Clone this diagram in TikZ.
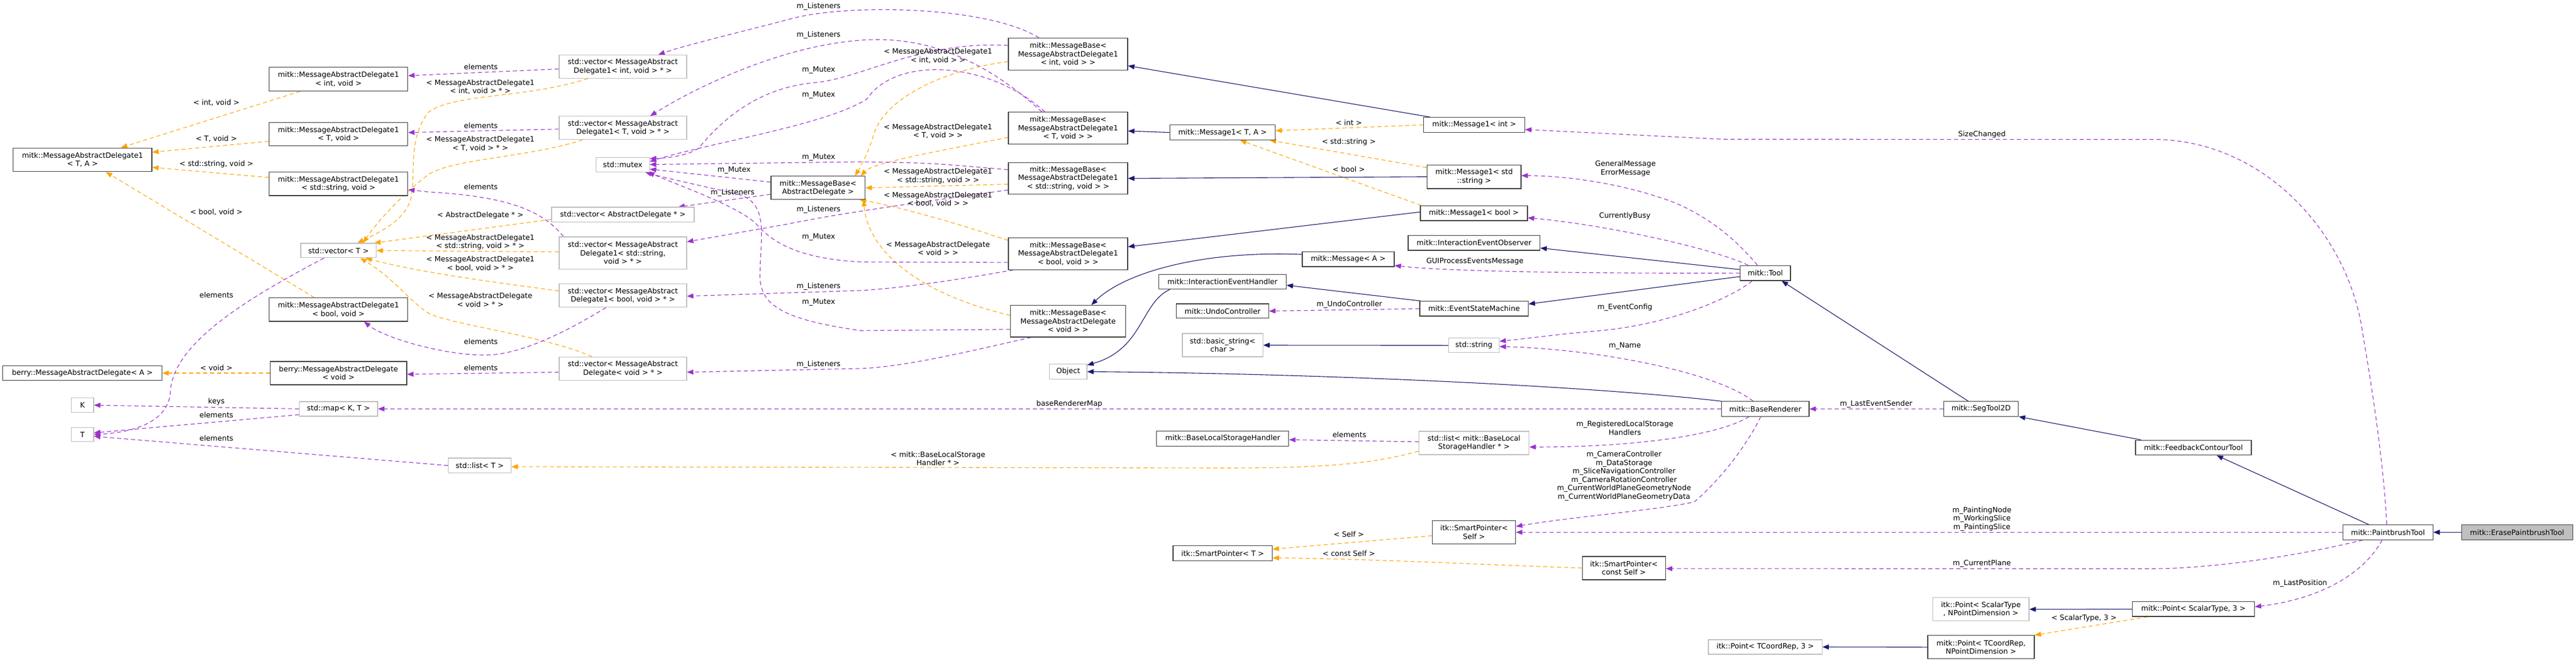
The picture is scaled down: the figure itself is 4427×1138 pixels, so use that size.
\documentclass[tikz,border=0pt]{standalone}
\usepackage{fontspec}
\setmainfont{DejaVu Sans}
\usetikzlibrary{arrows.meta,calc}
\pgfdeclarelayer{paper}
\pgfdeclarelayer{bg}
\pgfsetlayers{paper,bg,main}
\definecolor{purp}{HTML}{9A32CD}
\definecolor{orng}{HTML}{FFA500}
\definecolor{navy}{HTML}{191970}
\definecolor{gbord}{HTML}{BFBFBF}
\definecolor{dbord}{HTML}{404040}
\tikzset{
  box/.style={rectangle, inner sep=0pt, align=center, fill=white, line width=1.2pt},
  doc/.style={box, draw=dbord},
  und/.style={box, draw=gbord},
  sz/.style 2 args={minimum width=#1pt, minimum height=#2pt},
  lab/.style={inner sep=0pt, align=center},
  arrtip/.style={-{Triangle[length=11pt,width=8.5pt]}},
  usel/.style={draw=purp, line width=1.1pt, dash pattern=on 7pt off 5pt, arrtip},
  tmpl/.style={draw=orng, line width=1.1pt, dash pattern=on 7pt off 5pt, arrtip},
  inh/.style={draw=navy, line width=1.1pt, arrtip},
}
\begin{document}
\begin{tikzpicture}[x=1pt,y=-1pt,font=\fontsize{12.5}{14.5}\selectfont]
\begin{pgfonlayer}{paper}
\fill[white] (0,0) rectangle (4427,1138);
\end{pgfonlayer}
\useasboundingbox (0,0) rectangle (4427,1138);
% ---------- nodes ----------
\node[doc,sz={238.3}{40.7}] (madTA) at (141.9,274.5) {mitk::MessageAbstractDelegate1\\< T, A >};
\node[doc,sz={238.3}{40.7}] (madInt) at (581.7,136) {mitk::MessageAbstractDelegate1\\< int, void >};
\node[doc,sz={238.3}{40.3}] (madT) at (581.7,230.7) {mitk::MessageAbstractDelegate1\\< T, void >};
\node[doc,sz={238.3}{40.3}] (madStr) at (581.7,315.9) {mitk::MessageAbstractDelegate1\\< std::string, void >};
\node[doc,sz={238.3}{40.3}] (madBool) at (581.7,531.8) {mitk::MessageAbstractDelegate1\\< bool, void >};
\node[und,sz={129.5}{24.7}] (vecTT) at (581.8,430.4) {std::vector< T >};
\node[doc,sz={273.7}{25.5}] (berryA) at (141.5,641) {berry::MessageAbstractDelegate< A >};
\node[doc,sz={234.5}{40}] (berryVoid) at (581.7,641) {berry::MessageAbstractDelegate\\< void >};
\node[und,sz={38.2}{24.7}] (nK) at (141.8,696) {K};
\node[und,sz={38.2}{24.7}] (nT) at (141.8,746.5) {T};
\node[und,sz={134.5}{25}] (map) at (581.7,702.4) {std::map< K, T >};
\node[und,sz={219}{40}] (vecInt) at (1070.4,114.5) {std::vector< MessageAbstract\\Delegate1< int, void > * >};
\node[und,sz={219}{40}] (vecT) at (1070.4,219.8) {std::vector< MessageAbstract\\Delegate1< T, void > * >};
\node[und,sz={91.6}{25}] (mutex) at (1070.3,282.6) {std::mutex};
\node[und,sz={245}{25.7}] (vecAD) at (1070.5,368.9) {std::vector< AbstractDelegate * >};
\node[und,sz={219}{55.4}] (vecStr) at (1070.4,434.7) {std::vector< MessageAbstract\\Delegate1< std::string,\\void > * >};
\node[und,sz={219}{40}] (vecBool) at (1070.4,507.8) {std::vector< MessageAbstract\\Delegate1< bool, void > * >};
\node[und,sz={219}{40}] (vecVoid) at (1070.4,633.4) {std::vector< MessageAbstract\\Delegate< void > * >};
\node[und,sz={107.6}{25.6}] (listT) at (824.5,799.8) {std::list< T >};
\node[doc,sz={161.6}{40}] (mbAD) at (1405.8,322.8) {mitk::MessageBase<\\AbstractDelegate >};
\node[doc,sz={205}{54.5}] (mbInt) at (1835.5,93) {mitk::MessageBase<\\MessageAbstractDelegate1\\< int, void > >};
\node[doc,sz={205}{54.5}] (mbT) at (1835.5,220) {mitk::MessageBase<\\MessageAbstractDelegate1\\< T, void > >};
\node[doc,sz={205}{54.5}] (mbStr) at (1835.5,306.5) {mitk::MessageBase<\\MessageAbstractDelegate1\\< std::string, void > >};
\node[doc,sz={205}{54.5}] (mbBool) at (1835.5,435.9) {mitk::MessageBase<\\MessageAbstractDelegate1\\< bool, void > >};
\node[doc,sz={197.7}{54.5}] (mbVoid) at (1835.5,551.8) {mitk::MessageBase<\\MessageAbstractDelegate\\< void > >};
\node[doc,sz={181.2}{25.5}] (msg1TA) at (2101,227.6) {mitk::Message1< T, A >};
\node[doc,sz={219}{25}] (ieh) at (2101,484) {mitk::InteractionEventHandler};
\node[doc,sz={158.6}{24.7}] (undo) at (2101,534.4) {mitk::UndoController};
\node[und,sz={138.4}{40}] (bstr) at (2101.2,593) {std::basic\_string<\\char >};
\node[und,sz={64.2}{25.4}] (object) at (1835.8,638.5) {Object};
\node[doc,sz={227}{25.4}] (blsh) at (2101.3,753.4) {mitk::BaseLocalStorageHandler};
\node[doc,sz={170.4}{25.4}] (spT) at (2101.2,950.4) {itk::SmartPointer< T >};
\node[doc,sz={173.7}{25.5}] (msg1Int) at (2533.4,214.5) {mitk::Message1< int >};
\node[doc,sz={161.4}{40.4}] (msg1Str) at (2533.3,303.7) {mitk::Message1< std\\::string >};
\node[doc,sz={184}{25.7}] (msg1Bool) at (2532.9,366.2) {mitk::Message1< bool >};
\node[doc,sz={226.6}{25.8}] (ieo) at (2533.3,417.1) {mitk::InteractionEventObserver};
\node[doc,sz={158}{25.8}] (msgA) at (2317,445.1) {mitk::Message< A >};
\node[doc,sz={186.3}{25.4}] (esm) at (2533.2,530.3) {mitk::EventStateMachine};
\node[und,sz={86.8}{25.1}] (stdstr) at (2532.9,593.3) {std::string};
\node[und,sz={189.2}{40}] (listBLSH) at (2533.1,761) {std::list< mitk::BaseLocal\\StorageHandler * >};
\node[doc,sz={143}{40}] (spSelf) at (2533.1,914.4) {itk::SmartPointer<\\Self >};
\node[doc,sz={143}{40}] (spCSelf) at (2790.8,975.9) {itk::SmartPointer<\\const Self >};
\node[und,sz={195.3}{25}] (itkPTC3) at (3033.7,1111.5) {itk::Point< TCoordRep, 3 >};
\node[doc,sz={86.3}{25.8}] (tool) at (3033.9,469.1) {mitk::Tool};
\node[doc,sz={150.5}{25.4}] (baseR) at (3033.8,702.5) {mitk::BaseRenderer};
\node[doc,sz={128.3}{25.4}] (seg) at (3404.6,702.5) {mitk::SegTool2D};
\node[und,sz={165.5}{40}] (itkPSN) at (3404.3,1046.7) {itk::Point< ScalarType\\, NPointDimension >};
\node[doc,sz={183}{40}] (mPTN) at (3404.5,1111.8) {mitk::Point< TCoordRep,\\NPointDimension >};
\node[doc,sz={199}{25.5}] (fct) at (3769.5,769) {mitk::FeedbackContourTool};
\node[doc,sz={209.7}{25.3}] (mPS3) at (3769.5,1046.4) {mitk::Point< ScalarType, 3 >};
\node[doc,sz={154.8}{25.4}] (pbt) at (4103.8,914.4) {mitk::PaintbrushTool};
\node[doc,sz={190.7}{25.4},fill=gbord] (erase) at (4325.7,914.4) {mitk::ErasePaintbrushTool};
% ---------- labels ----------
\node[lab] (l1) at (371.9,176.3) {< int, void >};
\node[lab] (l2) at (371.9,238) {< T, void >};
\node[lab] (l3) at (371.9,282.4) {< std::string, void >};
\node[lab] (l4) at (371.9,364.6) {< bool, void >};
\node[lab] (l5) at (371.9,506.4) {elements};
\node[lab] (l6) at (371.9,632.3) {< void >};
\node[lab] (l7) at (371.9,690.5) {keys};
\node[lab] (l8) at (371.9,712.7) {elements};
\node[lab] (l9) at (371.9,752.7) {elements};
\node[lab] (l10) at (826.4,114.5) {elements};
\node[lab] (l11) at (825.5,149.4) {< MessageAbstractDelegate1\\< int, void > * >};
\node[lab] (l12) at (826.4,215.6) {elements};
\node[lab] (l13) at (825.5,247) {< MessageAbstractDelegate1\\< T, void > * >};
\node[lab] (l14) at (826.4,320.6) {elements};
\node[lab] (l15) at (825.5,370) {< AbstractDelegate * >};
\node[lab] (l16) at (825.5,415.9) {< MessageAbstractDelegate1\\< std::string, void > * >};
\node[lab] (l17) at (825.5,453) {< MessageAbstractDelegate1\\< bool, void > * >};
\node[lab] (l18) at (825.5,515.5) {< MessageAbstractDelegate\\< void > * >};
\node[lab] (l19) at (826.4,586.5) {elements};
\node[lab] (l20) at (826.4,631.6) {elements};
\node[lab] (l21) at (1261.5,292.6) {m\_Mutex};
\node[lab] (l22) at (1259,330.8) {m\_Listeners};
\node[lab] (l23) at (1406.8,11.6) {m\_Listeners};
\node[lab] (l24) at (1406.8,60.7) {m\_Listeners};
\node[lab] (l25) at (1406.8,120) {m\_Mutex};
\node[lab] (l26) at (1406.8,163.6) {m\_Mutex};
\node[lab] (l27) at (1406.8,270.8) {m\_Mutex};
\node[lab] (l28) at (1406.8,360.6) {m\_Listeners};
\node[lab] (l29) at (1406.8,407.8) {m\_Mutex};
\node[lab] (l30) at (1406.8,492.5) {m\_Listeners};
\node[lab] (l31) at (1406.8,519.8) {m\_Mutex};
\node[lab] (l32) at (1406.8,626.2) {m\_Listeners};
\node[lab] (l33) at (1612,96) {< MessageAbstractDelegate1\\< int, void > >};
\node[lab] (l34) at (1612,225.4) {< MessageAbstractDelegate1\\< T, void > >};
\node[lab] (l35) at (1612,302.6) {< MessageAbstractDelegate1\\< std::string, void > >};
\node[lab] (l36) at (1612,342.5) {< MessageAbstractDelegate1\\< bool, void > >};
\node[lab] (l37) at (1612,427) {< MessageAbstractDelegate\\< void > >};
\node[lab] (l38) at (1837.7,694.5) {baseRendererMap};
\node[lab] (l39) at (1612,788) {< mitk::BaseLocalStorage\\Handler * >};
\node[lab] (l40) at (2318,211.2) {< int >};
\node[lab] (l41) at (2318,244.3) {< std::string >};
\node[lab] (l42) at (2318,290.8) {< bool >};
\node[lab] (l43) at (2319,523.4) {m\_UndoController};
\node[lab] (l44) at (2319,747.2) {elements};
\node[lab] (l45) at (2318,917.7) {< Self >};
\node[lab] (l46) at (2318,950.8) {< const Self >};
\node[lab] (l47) at (2534.8,449) {GUIProcessEventsMessage};
\node[lab] (l48) at (2793.4,289.7) {GeneralMessage\\ErrorMessage};
\node[lab] (l49) at (2792.4,370.8) {CurrentlyBusy};
\node[lab] (l50) at (2792.4,527.8) {m\_EventConfig};
\node[lab] (l51) at (2792.4,594.5) {m\_Name};
\node[lab] (l52) at (2792.4,735.3) {m\_RegisteredLocalStorage\\Handlers};
\node[lab] (l53) at (2791,817.7) {m\_CameraController\\m\_DataStorage\\m\_SliceNavigationController\\m\_CameraRotationController\\m\_CurrentWorldPlaneGeometryNode\\m\_CurrentWorldPlaneGeometryData};
\node[lab] (l54) at (3224.3,694.5) {m\_LastEventSender};
\node[lab] (l55) at (3406,231.5) {SizeChanged};
\node[lab] (l56) at (3406,891.5) {m\_PaintingNode\\m\_WorkingSlice\\m\_PaintingSlice};
\node[lab] (l57) at (3406,968.6) {m\_CurrentPlane};
\node[lab] (l58) at (3581.5,1062.4) {< ScalarType, 3 >};
\node[lab] (l59) at (3952.7,1002.4) {m\_LastPosition};
% ---------- edges ----------
\begin{pgfonlayer}{bg}
% template instances (orange)
\draw[tmpl] ($(madInt.south west)+(54,0)$) -- ($(madTA.north)+(66,0)$);
\draw[tmpl] ($(madT.west)+(0,12)$) -- ($(madTA.east)+(0,-13)$);
\draw[tmpl] ($(madStr.west)+(0,-11)$) -- ($(madTA.east)+(0,13)$);
\draw[tmpl] ($(madBool.north west)+(78,0)$) -- ($(madTA.south)+(40,0)$);
\draw[tmpl] (berryVoid.west) -- (berryA.east);
\draw[tmpl] ($(vecInt.south west)+(50,0)$) .. controls (900,170) and (780,160) .. (736,193) .. controls (700,240) and (715,300) .. (706,342) .. controls (695,380) and (650,400) .. ($(vecTT.north east)+(-33,0)$);
\draw[tmpl] ($(vecT.south west)+(41,0)$) .. controls (900,272) and (780,272) .. (736,300) .. controls (690,335) and (645,385) .. ($(vecTT.north east)+(-23,0)$);
\draw[tmpl] ($(vecAD.west)+(0,8)$) -- ($(vecTT.north east)+(-4,0)$);
\draw[tmpl] ($(vecStr.west)+(0,-2)$) -- (vecTT.east);
\draw[tmpl] ($(vecBool.west)+(0,-8)$) .. controls (850,485) and (720,468) .. ($(vecTT.south east)+(-19,0)$);
\draw[tmpl] ($(vecVoid.north west)+(57,0)$) .. controls (940,578) and (790,560) .. (740,540) .. controls (705,520) and (680,480) .. ($(vecTT.south east)+(-28,0)$);
\draw[tmpl] ($(mbInt.south west)+(0,-15)$) .. controls (1620,120) and (1520,170) .. (1502,230) .. controls (1492,262) and (1480,285) .. ($(mbAD.north east)+(-18,0)$);
\draw[tmpl] ($(mbT.west)+(0,16)$) .. controls (1600,262) and (1500,280) .. ($(mbAD.north east)+(-8,0)$);
\draw[tmpl] ($(mbStr.west)+(0,10)$) -- (mbAD.east);
\draw[tmpl] ($(mbBool.north west)+(0,5)$) .. controls (1620,375) and (1520,350) .. ($(mbAD.south east)+(-10,0)$);
\draw[tmpl] ($(mbVoid.west)+(0,-10)$) .. controls (1560,500) and (1490,420) .. ($(mbAD.south east)+(-3,0)$);
\draw[tmpl] (msg1Int.west) -- ($(msg1TA.east)+(0,-3)$);
\draw[tmpl] ($(msg1Str.north west)+(0,5)$) -- ($(msg1TA.south east)+(-10,0)$);
\draw[tmpl] ($(msg1Bool.north west)+(2,0)$) -- ($(msg1TA.south)+(30,0)$);
\draw[tmpl] ($(listBLSH.west)+(0,14)$) .. controls (2350,800) and (2250,804) .. (2100,804) -- ($(listT.east)+(0,2)$);
\draw[tmpl] ($(spSelf.west)+(0,6)$) -- ($(spT.east)+(0,-7)$);
\draw[tmpl] (spCSelf.west) .. controls (2550,970) and (2350,960) .. ($(spT.east)+(0,8)$);
\draw[tmpl] ($(mPS3.south west)+(27,0)$) -- (mPTN.north east);
% inheritance (navy)
\draw[inh] ($(msg1Int.north west)+(12,0)$) -- ($(mbInt.east)+(0,20)$);
\draw[inh] (msg1TA.west) -- ($(mbT.east)+(0,5)$);
\draw[inh] (msg1Str.west) -- (mbStr.east);
\draw[inh] ($(msg1Bool.west)+(0,-2)$) -- ($(mbBool.east)+(0,-12)$);
\draw[inh] ($(msgA.west)+(0,-8)$) .. controls (2060,430) and (1930,470) .. ($(mbVoid.north)+(40,0)$);
\draw[inh] ($(ieh.south west)+(20,0)$) .. controls (1960,520) and (1965,600) .. ($(object.north east)+(0,2)$);
\draw[inh] (baseR.north west) .. controls (2750,665) and (2300,642) .. (object.east);
\draw[inh] (stdstr.west) -- (bstr.east);
\draw[inh] ($(esm.north west)+(2,0)$) -- ($(ieh.east)+(0,6)$);
\draw[inh] ($(tool.west)+(0,-6)$) -- ($(ieo.east)+(0,9)$);
\draw[inh] ($(tool.west)+(0,6)$) -- ($(esm.east)+(0,-8)$);
\draw[inh] ($(seg.north)+(-22,0)$) -- ($(tool.south)+(28,0)$);
\draw[inh] ($(fct.north west)+(10,0)$) -- (seg.south east);
\draw[inh] ($(pbt.north)+(-33,0)$) -- ($(fct.south)+(40,0)$);
\draw[inh] (erase.west) -- (pbt.east);
\draw[inh] (mPS3.west) -- (itkPSN.east);
\draw[inh] (mPTN.west) -- (itkPTC3.east);
% usage (purple)
\draw[usel] ($(vecInt.west)+(0,4)$) -- ($(madInt.east)+(0,-6)$);
\draw[usel] ($(vecT.west)+(0,2)$) -- ($(madT.east)+(0,-3)$);
\draw[usel] ($(vecStr.north west)+(8,0)$) .. controls (935,365) and (880,338) .. (740,330) -- ($(madStr.east)+(0,10)$);
\draw[usel] ($(vecBool.south west)+(81,0)$) .. controls (990,560) and (900,610) .. (834,610) .. controls (760,610) and (660,580) .. ($(madBool.south)+(44,0)$);
\draw[usel] ($(vecVoid.west)+(0,6)$) -- ($(berryVoid.east)+(0,2)$);
\draw[usel] ($(vecTT.south)+(-25,0)$) .. controls (420,515) and (300,590) .. (293,670) .. controls (292,720) and (240,742) .. (nT.east);
\draw[usel] (map.west) -- (nK.east);
\draw[usel] ($(map.west)+(0,10)$) -- ($(nT.east)+(0,-3)$);
\draw[usel] (listT.west) -- ($(nT.east)+(0,3)$);
\draw[usel] ($(mbAD.west)+(0,-10)$) -- ($(mutex.east)+(0,8)$);
\draw[usel] ($(mbAD.west)+(0,11)$) -- ($(vecAD.north east)+(-28,0)$);
\draw[usel] ($(mbInt.north)+(-50,0)$) .. controls (1700,10) and (1450,5) .. (1353,34) .. controls (1260,58) and (1170,80) .. ($(vecInt.north)+(61,0)$);
\draw[usel] ($(mbT.north)+(-45,0)$) .. controls (1700,110) and (1600,60) .. (1480,69) .. controls (1330,80) and (1180,160) .. ($(vecT.north)+(47,0)$);
\draw[usel] ($(mbInt.west)+(0,-15)$) .. controls (1580,70) and (1480,135) .. (1400,142) .. controls (1290,152) and (1230,220) .. (1200,255) .. controls (1180,268) and (1150,271) .. ($(mutex.east)+(0,-10)$);
\draw[usel] ($(mbT.north)+(-40,0)$) .. controls (1700,105) and (1540,95) .. (1490,170) .. controls (1420,215) and (1220,245) .. ($(mutex.east)+(0,-5)$);
\draw[usel] ($(mbStr.west)+(0,-15)$) .. controls (1600,280) .. (1480,278) -- (mutex.east);
\draw[usel] ($(mbStr.south west)+(0,-8)$) .. controls (1600,345) and (1450,365) .. (1353,385) -- ($(vecStr.north east)+(0,9)$);
\draw[usel] ($(mbBool.west)+(0,15)$) -- (1480,450) .. controls (1380,445) and (1330,420) .. (1300,385) .. controls (1270,355) and (1170,320) .. ($(mutex.south east)+(-3,0)$);
\draw[usel] ($(mbBool.south west)+(9,0)$) .. controls (1650,480) and (1550,495) .. (1480,499) -- ($(vecBool.east)+(0,1)$);
\draw[usel] ($(mbVoid.west)+(0,14)$) -- (1480,568) .. controls (1335,548) and (1305,520) .. (1306,470) .. controls (1308,400) and (1320,350) .. (1270,334) .. controls (1200,318) and (1140,305) .. ($(mutex.south east)+(-8,0)$);
\draw[usel] ($(mbVoid.south west)+(36,0)$) .. controls (1680,600) and (1560,630) .. (1480,633) -- ($(vecVoid.east)+(0,6)$);
\draw[usel] (esm.west) -- (undo.east);
\draw[usel] ($(pbt.north)+(-2,0)$) .. controls (4095,780) and (4075,660) .. (4060,570) .. controls (4035,400) and (3890,239.5) .. (3700,239.5) -- (2960,239.2) -- ($(msg1Int.east)+(0,8)$);
\draw[usel] ($(tool.north west)+(30,0)$) .. controls (2990,420) and (2950,380) .. (2880,349) .. controls (2800,318) and (2700,302) .. ($(msg1Str.east)+(0,-2)$);
\draw[usel] ($(tool.north west)+(14,0)$) .. controls (2940,425) and (2750,385) .. ($(msg1Bool.east)+(0,8)$);
\draw[usel] (tool.west) .. controls (2800,470) and (2500,468) .. ($(msgA.east)+(0,11)$);
\draw[usel] ($(tool.south west)+(21,0)$) .. controls (2985,505) and (2880,558) .. (2739,569) .. controls (2680,574) and (2620,582) .. ($(stdstr.east)+(0,-7)$);
\draw[usel] ($(baseR.north west)+(55,0)$) .. controls (2950,640) and (2750,600) .. ($(stdstr.east)+(0,2)$);
\draw[usel] (baseR.west) -- (map.east);
\draw[usel] ($(baseR.south west)+(48,0)$) .. controls (2950,750) and (2800,768) .. ($(listBLSH.east)+(0,7)$);
\draw[usel] ($(listBLSH.west)+(0,-2)$) -- ($(blsh.east)+(0,2)$);
\draw[usel] ($(baseR.south)+(-8,0)$) .. controls (3000,770) and (2950,830) .. (2912,862) .. controls (2860,875) and (2700,888) .. ($(spSelf.east)+(0,-10)$);
\draw[usel] (pbt.west) -- (spSelf.east);
\draw[usel] ($(pbt.south west)+(35,0)$) .. controls (3950,955) and (3800,977) .. (3700,977) -- ($(spCSelf.east)+(0,1)$);
\draw[usel] ($(pbt.south)+(-10,0)$) .. controls (4060,990) and (3980,1030) .. ($(mPS3.east)+(0,-4)$);
\draw[usel] (seg.west) -- (baseR.east);
\end{pgfonlayer}
\end{tikzpicture}
\end{document}
